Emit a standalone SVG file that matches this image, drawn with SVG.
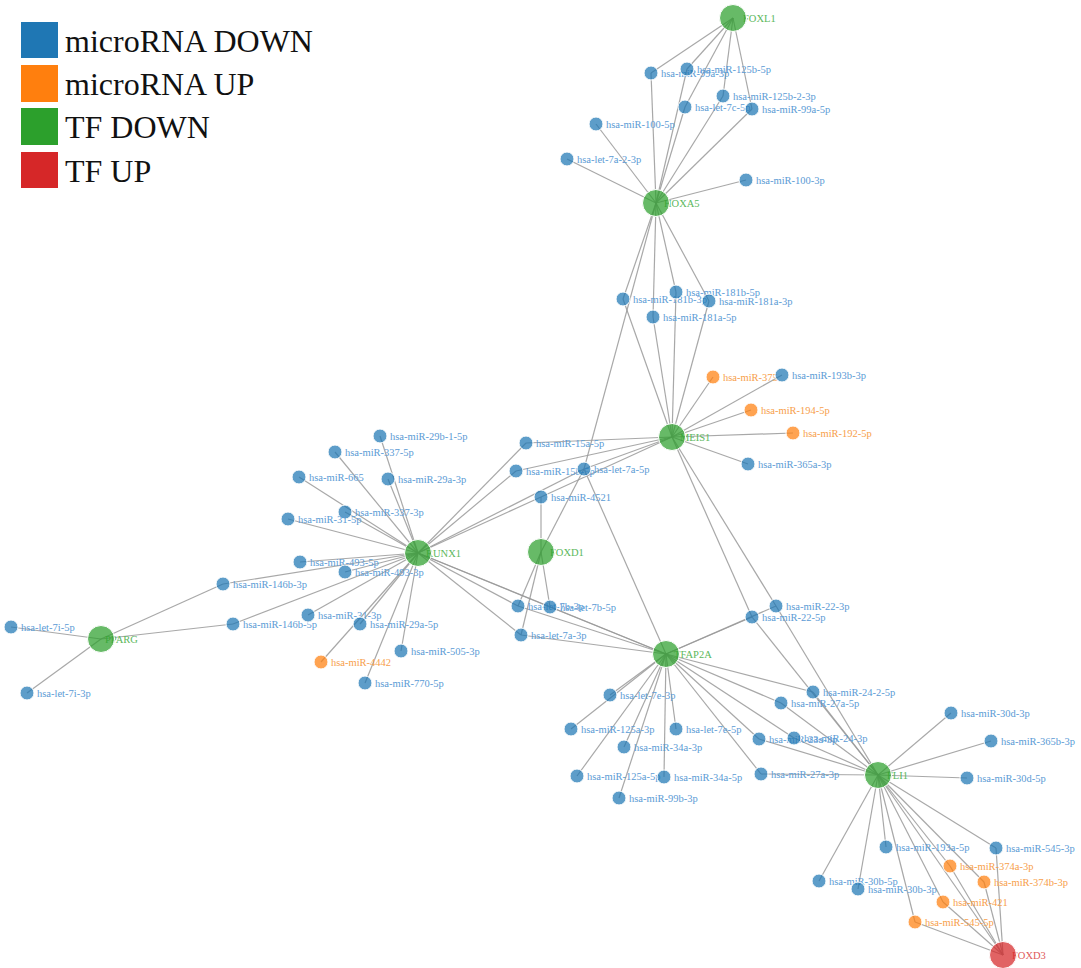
<svg xmlns="http://www.w3.org/2000/svg" width="1081" height="968" viewBox="0 0 1081 968">
<style>
.e{stroke:#999;stroke-opacity:.85;stroke-width:1.2;fill:none}
text{font-family:"Liberation Serif","Times New Roman",serif;font-size:10.5px}
.leg{font-size:32px;fill:#111}
.b circle{fill:#1f77b4;fill-opacity:.72;stroke:#fff;stroke-width:1}
.o circle{fill:#ff7f0e;fill-opacity:.72;stroke:#fff;stroke-width:1}
.g circle{fill:#2ca02c;fill-opacity:.72;stroke:#fff;stroke-width:1}
.r circle{fill:#d62728;fill-opacity:.72;stroke:#fff;stroke-width:1}
.b text{fill:#5b9bd5}
.o text{fill:#f7a04b}
.g text{fill:#5cb85c}
.r text{fill:#e0595a}
</style>
<rect width="1081" height="968" fill="#fff"/>
<g id="legend">
<rect x="21" y="22" width="37" height="36" fill="#1f77b4"/>
<text class="leg" x="65" y="52">microRNA DOWN</text>
<rect x="21" y="65" width="37" height="37" fill="#ff7f0e"/>
<text class="leg" x="65" y="95">microRNA UP</text>
<rect x="21" y="108" width="37" height="37" fill="#2ca02c"/>
<text class="leg" x="65" y="138">TF DOWN</text>
<rect x="21" y="152" width="37" height="36" fill="#d62728"/>
<text class="leg" x="65" y="182">TF UP</text>
</g>
<g id="connectors" class="e">
<line x1="733" y1="18" x2="651" y2="73"/>
<line x1="733" y1="18" x2="687" y2="69"/>
<line x1="733" y1="18" x2="723" y2="96"/>
<line x1="733" y1="18" x2="685" y2="107"/>
<line x1="733" y1="18" x2="752" y2="109"/>
<line x1="656" y1="203" x2="651" y2="73"/>
<line x1="656" y1="203" x2="687" y2="69"/>
<line x1="656" y1="203" x2="723" y2="96"/>
<line x1="656" y1="203" x2="685" y2="107"/>
<line x1="656" y1="203" x2="752" y2="109"/>
<line x1="656" y1="203" x2="596" y2="124"/>
<line x1="656" y1="203" x2="567" y2="159"/>
<line x1="656" y1="203" x2="746" y2="180"/>
<line x1="656" y1="203" x2="623" y2="299"/>
<line x1="656" y1="203" x2="676" y2="292"/>
<line x1="656" y1="203" x2="709" y2="301"/>
<line x1="656" y1="203" x2="653" y2="317"/>
<line x1="656" y1="203" x2="584" y2="469"/>
<line x1="672" y1="437" x2="623" y2="299"/>
<line x1="672" y1="437" x2="676" y2="292"/>
<line x1="672" y1="437" x2="709" y2="301"/>
<line x1="672" y1="437" x2="653" y2="317"/>
<line x1="672" y1="437" x2="713" y2="377"/>
<line x1="672" y1="437" x2="782" y2="375"/>
<line x1="672" y1="437" x2="751" y2="410"/>
<line x1="672" y1="437" x2="793" y2="433"/>
<line x1="672" y1="437" x2="748" y2="464"/>
<line x1="672" y1="437" x2="526" y2="443"/>
<line x1="672" y1="437" x2="516" y2="471"/>
<line x1="672" y1="437" x2="584" y2="469"/>
<line x1="672" y1="437" x2="541" y2="497"/>
<line x1="672" y1="437" x2="776" y2="606"/>
<line x1="672" y1="437" x2="752" y2="617"/>
<line x1="418" y1="553" x2="380" y2="436"/>
<line x1="418" y1="553" x2="335" y2="452"/>
<line x1="418" y1="553" x2="299" y2="477"/>
<line x1="418" y1="553" x2="388" y2="479"/>
<line x1="418" y1="553" x2="345" y2="512"/>
<line x1="418" y1="553" x2="288" y2="519"/>
<line x1="418" y1="553" x2="300" y2="562"/>
<line x1="418" y1="553" x2="345" y2="572"/>
<line x1="418" y1="553" x2="223" y2="584"/>
<line x1="418" y1="553" x2="233" y2="624"/>
<line x1="418" y1="553" x2="308" y2="615"/>
<line x1="418" y1="553" x2="360" y2="624"/>
<line x1="418" y1="553" x2="401" y2="651"/>
<line x1="418" y1="553" x2="321" y2="662"/>
<line x1="418" y1="553" x2="365" y2="683"/>
<line x1="418" y1="553" x2="526" y2="443"/>
<line x1="418" y1="553" x2="516" y2="471"/>
<line x1="418" y1="553" x2="584" y2="469"/>
<line x1="418" y1="553" x2="541" y2="497"/>
<line x1="418" y1="553" x2="518" y2="606"/>
<line x1="418" y1="553" x2="550" y2="607"/>
<line x1="418" y1="553" x2="521" y2="635"/>
<line x1="418" y1="553" x2="666" y2="654"/>
<line x1="101" y1="639" x2="11" y2="627"/>
<line x1="101" y1="639" x2="27" y2="693"/>
<line x1="101" y1="639" x2="223" y2="584"/>
<line x1="101" y1="639" x2="233" y2="624"/>
<line x1="541" y1="552" x2="541" y2="497"/>
<line x1="541" y1="552" x2="584" y2="469"/>
<line x1="541" y1="552" x2="518" y2="606"/>
<line x1="541" y1="552" x2="550" y2="607"/>
<line x1="541" y1="552" x2="521" y2="635"/>
<line x1="666" y1="654" x2="518" y2="606"/>
<line x1="666" y1="654" x2="550" y2="607"/>
<line x1="666" y1="654" x2="521" y2="635"/>
<line x1="666" y1="654" x2="584" y2="469"/>
<line x1="666" y1="654" x2="776" y2="606"/>
<line x1="666" y1="654" x2="752" y2="617"/>
<line x1="666" y1="654" x2="610" y2="695"/>
<line x1="666" y1="654" x2="571" y2="729"/>
<line x1="666" y1="654" x2="676" y2="729"/>
<line x1="666" y1="654" x2="624" y2="747"/>
<line x1="666" y1="654" x2="577" y2="776"/>
<line x1="666" y1="654" x2="664" y2="777"/>
<line x1="666" y1="654" x2="619" y2="798"/>
<line x1="666" y1="654" x2="813" y2="692"/>
<line x1="666" y1="654" x2="781" y2="703"/>
<line x1="666" y1="654" x2="759" y2="739"/>
<line x1="666" y1="654" x2="794" y2="738"/>
<line x1="666" y1="654" x2="761" y2="774"/>
<line x1="878" y1="775" x2="776" y2="606"/>
<line x1="878" y1="775" x2="752" y2="617"/>
<line x1="878" y1="775" x2="813" y2="692"/>
<line x1="878" y1="775" x2="781" y2="703"/>
<line x1="878" y1="775" x2="759" y2="739"/>
<line x1="878" y1="775" x2="794" y2="738"/>
<line x1="878" y1="775" x2="761" y2="774"/>
<line x1="878" y1="775" x2="951" y2="713"/>
<line x1="878" y1="775" x2="991" y2="741"/>
<line x1="878" y1="775" x2="967" y2="778"/>
<line x1="878" y1="775" x2="886" y2="847"/>
<line x1="878" y1="775" x2="996" y2="848"/>
<line x1="878" y1="775" x2="950" y2="866"/>
<line x1="878" y1="775" x2="984" y2="882"/>
<line x1="878" y1="775" x2="819" y2="881"/>
<line x1="878" y1="775" x2="858" y2="889"/>
<line x1="878" y1="775" x2="943" y2="902"/>
<line x1="878" y1="775" x2="915" y2="922"/>
<line x1="878" y1="775" x2="1003" y2="955"/>
<line x1="1003" y1="955" x2="996" y2="848"/>
<line x1="1003" y1="955" x2="950" y2="866"/>
<line x1="1003" y1="955" x2="984" y2="882"/>
<line x1="1003" y1="955" x2="943" y2="902"/>
<line x1="1003" y1="955" x2="915" y2="922"/>
</g>
<g id="nodes">
<g id="n-hsa-miR-99a-3p" class="b"><text x="661" y="77">hsa-miR-99a-3p</text><circle cx="651" cy="73" r="7"/></g>
<g id="n-hsa-miR-125b-5p" class="b"><text x="697" y="73">hsa-miR-125b-5p</text><circle cx="687" cy="69" r="7"/></g>
<g id="n-hsa-miR-125b-2-3p" class="b"><text x="733" y="100">hsa-miR-125b-2-3p</text><circle cx="723" cy="96" r="7"/></g>
<g id="n-hsa-let-7c-5p" class="b"><text x="695" y="111">hsa-let-7c-5p</text><circle cx="685" cy="107" r="7"/></g>
<g id="n-hsa-miR-99a-5p" class="b"><text x="762" y="113">hsa-miR-99a-5p</text><circle cx="752" cy="109" r="7"/></g>
<g id="n-hsa-miR-100-5p" class="b"><text x="606" y="128">hsa-miR-100-5p</text><circle cx="596" cy="124" r="7"/></g>
<g id="n-hsa-let-7a-2-3p" class="b"><text x="577" y="163">hsa-let-7a-2-3p</text><circle cx="567" cy="159" r="7"/></g>
<g id="n-hsa-miR-100-3p" class="b"><text x="756" y="184">hsa-miR-100-3p</text><circle cx="746" cy="180" r="7"/></g>
<g id="n-hsa-miR-181b-3p" class="b"><text x="633" y="303">hsa-miR-181b-3p</text><circle cx="623" cy="299" r="7"/></g>
<g id="n-hsa-miR-181b-5p" class="b"><text x="686" y="296">hsa-miR-181b-5p</text><circle cx="676" cy="292" r="7"/></g>
<g id="n-hsa-miR-181a-3p" class="b"><text x="719" y="305">hsa-miR-181a-3p</text><circle cx="709" cy="301" r="7"/></g>
<g id="n-hsa-miR-181a-5p" class="b"><text x="663" y="321">hsa-miR-181a-5p</text><circle cx="653" cy="317" r="7"/></g>
<g id="n-hsa-miR-375" class="o"><text x="723" y="381">hsa-miR-375</text><circle cx="713" cy="377" r="7"/></g>
<g id="n-hsa-miR-193b-3p" class="b"><text x="792" y="379">hsa-miR-193b-3p</text><circle cx="782" cy="375" r="7"/></g>
<g id="n-hsa-miR-194-5p" class="o"><text x="761" y="414">hsa-miR-194-5p</text><circle cx="751" cy="410" r="7"/></g>
<g id="n-hsa-miR-192-5p" class="o"><text x="803" y="437">hsa-miR-192-5p</text><circle cx="793" cy="433" r="7"/></g>
<g id="n-hsa-miR-365a-3p" class="b"><text x="758" y="468">hsa-miR-365a-3p</text><circle cx="748" cy="464" r="7"/></g>
<g id="n-hsa-miR-15a-5p" class="b"><text x="536" y="447">hsa-miR-15a-5p</text><circle cx="526" cy="443" r="7"/></g>
<g id="n-hsa-miR-15b-5p" class="b"><text x="526" y="475">hsa-miR-15b-5p</text><circle cx="516" cy="471" r="7"/></g>
<g id="n-hsa-let-7a-5p" class="b"><text x="594" y="473">hsa-let-7a-5p</text><circle cx="584" cy="469" r="7"/></g>
<g id="n-hsa-miR-4521" class="b"><text x="551" y="501">hsa-miR-4521</text><circle cx="541" cy="497" r="7"/></g>
<g id="n-hsa-miR-29b-1-5p" class="b"><text x="390" y="440">hsa-miR-29b-1-5p</text><circle cx="380" cy="436" r="7"/></g>
<g id="n-hsa-miR-337-5p" class="b"><text x="345" y="456">hsa-miR-337-5p</text><circle cx="335" cy="452" r="7"/></g>
<g id="n-hsa-miR-665" class="b"><text x="309" y="481">hsa-miR-665</text><circle cx="299" cy="477" r="7"/></g>
<g id="n-hsa-miR-29a-3p" class="b"><text x="398" y="483">hsa-miR-29a-3p</text><circle cx="388" cy="479" r="7"/></g>
<g id="n-hsa-miR-337-3p" class="b"><text x="355" y="516">hsa-miR-337-3p</text><circle cx="345" cy="512" r="7"/></g>
<g id="n-hsa-miR-31-5p" class="b"><text x="298" y="523">hsa-miR-31-5p</text><circle cx="288" cy="519" r="7"/></g>
<g id="n-hsa-miR-493-5p" class="b"><text x="310" y="566">hsa-miR-493-5p</text><circle cx="300" cy="562" r="7"/></g>
<g id="n-hsa-miR-493-3p" class="b"><text x="355" y="576">hsa-miR-493-3p</text><circle cx="345" cy="572" r="7"/></g>
<g id="n-hsa-miR-146b-3p" class="b"><text x="233" y="588">hsa-miR-146b-3p</text><circle cx="223" cy="584" r="7"/></g>
<g id="n-hsa-miR-146b-5p" class="b"><text x="243" y="628">hsa-miR-146b-5p</text><circle cx="233" cy="624" r="7"/></g>
<g id="n-hsa-miR-31-3p" class="b"><text x="318" y="619">hsa-miR-31-3p</text><circle cx="308" cy="615" r="7"/></g>
<g id="n-hsa-miR-29a-5p" class="b"><text x="370" y="628">hsa-miR-29a-5p</text><circle cx="360" cy="624" r="7"/></g>
<g id="n-hsa-miR-505-3p" class="b"><text x="411" y="655">hsa-miR-505-3p</text><circle cx="401" cy="651" r="7"/></g>
<g id="n-hsa-miR-4442" class="o"><text x="331" y="666">hsa-miR-4442</text><circle cx="321" cy="662" r="7"/></g>
<g id="n-hsa-miR-770-5p" class="b"><text x="375" y="687">hsa-miR-770-5p</text><circle cx="365" cy="683" r="7"/></g>
<g id="n-hsa-let-7i-5p" class="b"><text x="21" y="631">hsa-let-7i-5p</text><circle cx="11" cy="627" r="7"/></g>
<g id="n-hsa-let-7i-3p" class="b"><text x="37" y="697">hsa-let-7i-3p</text><circle cx="27" cy="693" r="7"/></g>
<g id="n-hsa-let-7b-3p" class="b"><text x="528" y="610">hsa-let-7b-3p</text><circle cx="518" cy="606" r="7"/></g>
<g id="n-hsa-let-7b-5p" class="b"><text x="560" y="611">hsa-let-7b-5p</text><circle cx="550" cy="607" r="7"/></g>
<g id="n-hsa-let-7a-3p" class="b"><text x="531" y="639">hsa-let-7a-3p</text><circle cx="521" cy="635" r="7"/></g>
<g id="n-hsa-miR-22-3p" class="b"><text x="786" y="610">hsa-miR-22-3p</text><circle cx="776" cy="606" r="7"/></g>
<g id="n-hsa-miR-22-5p" class="b"><text x="762" y="621">hsa-miR-22-5p</text><circle cx="752" cy="617" r="7"/></g>
<g id="n-hsa-let-7e-3p" class="b"><text x="620" y="699">hsa-let-7e-3p</text><circle cx="610" cy="695" r="7"/></g>
<g id="n-hsa-miR-125a-3p" class="b"><text x="581" y="733">hsa-miR-125a-3p</text><circle cx="571" cy="729" r="7"/></g>
<g id="n-hsa-let-7e-5p" class="b"><text x="686" y="733">hsa-let-7e-5p</text><circle cx="676" cy="729" r="7"/></g>
<g id="n-hsa-miR-34a-3p" class="b"><text x="634" y="751">hsa-miR-34a-3p</text><circle cx="624" cy="747" r="7"/></g>
<g id="n-hsa-miR-125a-5p" class="b"><text x="587" y="780">hsa-miR-125a-5p</text><circle cx="577" cy="776" r="7"/></g>
<g id="n-hsa-miR-34a-5p" class="b"><text x="674" y="781">hsa-miR-34a-5p</text><circle cx="664" cy="777" r="7"/></g>
<g id="n-hsa-miR-99b-3p" class="b"><text x="629" y="802">hsa-miR-99b-3p</text><circle cx="619" cy="798" r="7"/></g>
<g id="n-hsa-miR-24-2-5p" class="b"><text x="823" y="696">hsa-miR-24-2-5p</text><circle cx="813" cy="692" r="7"/></g>
<g id="n-hsa-miR-27a-5p" class="b"><text x="791" y="707">hsa-miR-27a-5p</text><circle cx="781" cy="703" r="7"/></g>
<g id="n-hsa-miR-23a-3p" class="b"><text x="769" y="743">hsa-miR-23a-3p</text><circle cx="759" cy="739" r="7"/></g>
<g id="n-hsa-miR-24-3p" class="b"><text x="804" y="742">hsa-miR-24-3p</text><circle cx="794" cy="738" r="7"/></g>
<g id="n-hsa-miR-27a-3p" class="b"><text x="771" y="778">hsa-miR-27a-3p</text><circle cx="761" cy="774" r="7"/></g>
<g id="n-hsa-miR-30d-3p" class="b"><text x="961" y="717">hsa-miR-30d-3p</text><circle cx="951" cy="713" r="7"/></g>
<g id="n-hsa-miR-365b-3p" class="b"><text x="1001" y="745">hsa-miR-365b-3p</text><circle cx="991" cy="741" r="7"/></g>
<g id="n-hsa-miR-30d-5p" class="b"><text x="977" y="782">hsa-miR-30d-5p</text><circle cx="967" cy="778" r="7"/></g>
<g id="n-hsa-miR-193a-5p" class="b"><text x="896" y="851">hsa-miR-193a-5p</text><circle cx="886" cy="847" r="7"/></g>
<g id="n-hsa-miR-545-3p" class="b"><text x="1006" y="852">hsa-miR-545-3p</text><circle cx="996" cy="848" r="7"/></g>
<g id="n-hsa-miR-374a-3p" class="o"><text x="960" y="870">hsa-miR-374a-3p</text><circle cx="950" cy="866" r="7"/></g>
<g id="n-hsa-miR-374b-3p" class="o"><text x="994" y="886">hsa-miR-374b-3p</text><circle cx="984" cy="882" r="7"/></g>
<g id="n-hsa-miR-30b-5p" class="b"><text x="829" y="885">hsa-miR-30b-5p</text><circle cx="819" cy="881" r="7"/></g>
<g id="n-hsa-miR-30b-3p" class="b"><text x="868" y="893">hsa-miR-30b-3p</text><circle cx="858" cy="889" r="7"/></g>
<g id="n-hsa-miR-421" class="o"><text x="953" y="906">hsa-miR-421</text><circle cx="943" cy="902" r="7"/></g>
<g id="n-hsa-miR-545-5p" class="o"><text x="925" y="926">hsa-miR-545-5p</text><circle cx="915" cy="922" r="7"/></g>
<g id="n-FOXL1" class="g"><text x="743" y="22">FOXL1</text><circle cx="733" cy="18" r="13.5"/></g>
<g id="n-HOXA5" class="g"><text x="664" y="207">HOXA5</text><circle cx="656" cy="203" r="13.5"/></g>
<g id="n-MEIS1" class="g"><text x="680" y="441">MEIS1</text><circle cx="672" cy="437" r="13.5"/></g>
<g id="n-RUNX1" class="g"><text x="426" y="557">RUNX1</text><circle cx="418" cy="553" r="13.5"/></g>
<g id="n-FOXD1" class="g"><text x="550" y="556">FOXD1</text><circle cx="541" cy="552" r="13.5"/></g>
<g id="n-PPARG" class="g"><text x="105" y="643">PPARG</text><circle cx="101" cy="639" r="13.5"/></g>
<g id="n-TFAP2A" class="g"><text x="674" y="658">TFAP2A</text><circle cx="666" cy="654" r="13.5"/></g>
<g id="n-FLI1" class="g"><text x="887" y="779">FLI1</text><circle cx="878" cy="775" r="13.5"/></g>
<g id="n-FOXD3" class="r"><text x="1012" y="959">FOXD3</text><circle cx="1003" cy="955" r="13.5"/></g>
</g>
</svg>
